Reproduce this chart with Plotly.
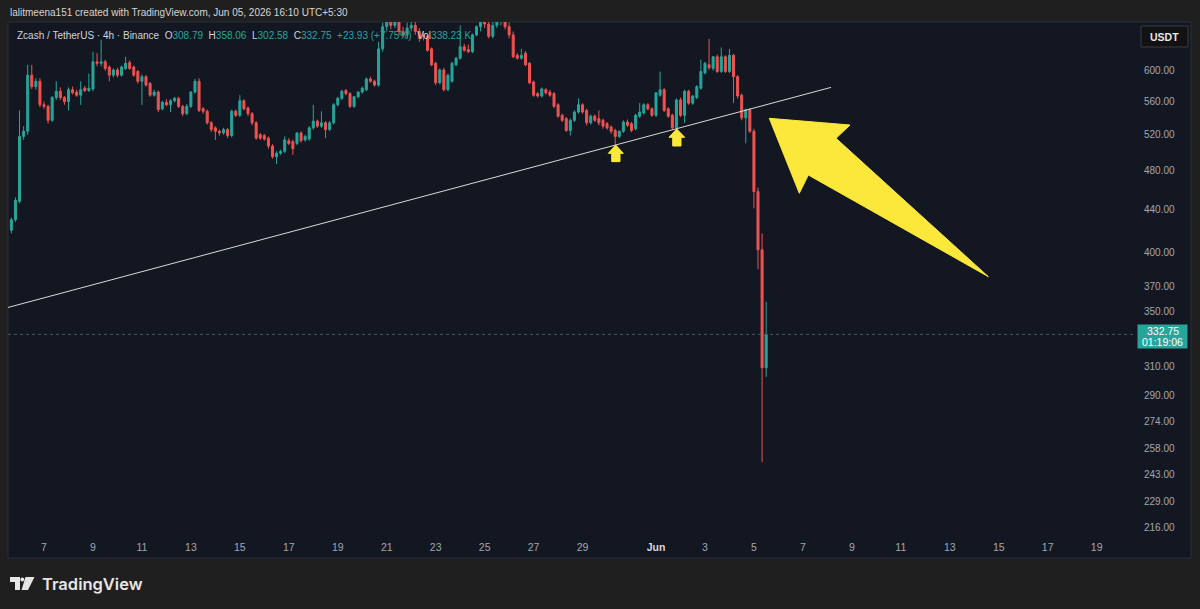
import math
import pandas as pd
import plotly.graph_objects as go

# ---------------- data (4h candles, ZEC/USDT) ----------------
first_candle = "2026-05-05 16:00"

opens = [420, 430, 448, 518, 524, 594, 579, 586, 556, 554,
         537, 565, 573, 565, 560, 575, 572, 568, 577, 574,
         576, 612, 610, 612, 605, 594, 601, 594, 603, 611,
         605, 599, 586, 592, 583, 568, 572, 551, 559, 556,
         561, 564, 554, 545, 554, 572, 586, 551, 548, 534,
         528, 524, 522, 526, 519, 548, 543, 561, 552, 545,
         534, 520, 519, 516, 507, 495, 499, 501, 513, 512,
         510, 522, 514, 515, 528, 536, 530, 534, 526, 534,
         556, 564, 574, 570, 554, 566, 572, 575, 589, 586,
         581, 630, 662, 672, 664, 670, 655, 650, 660, 664,
         655, 650, 648, 630, 610, 584, 601, 575, 586, 608,
         617, 633, 629, 626, 650, 662, 672, 666, 648, 664,
         670, 674, 662, 650, 621, 617, 624, 610, 585, 570,
         567, 575, 572, 570, 556, 543, 539, 525, 537, 547,
         556, 549, 534, 542, 539, 537, 533, 529, 525, 518,
         524, 535, 533, 527, 542, 546, 556, 551, 543, 568,
         575, 551, 543, 528, 562, 543, 573, 558, 565, 577,
         597, 608, 603, 619, 599, 619, 599, 621, 592, 568,
         540, 550, 524, 458, 402, 308.79]
highs = [432, 452, 549, 530, 608, 608, 590, 590, 560, 556,
         567, 586, 578, 567, 578, 579, 575, 586, 580, 596,
         626, 624, 643, 615, 607, 603, 604, 607, 619, 614,
         607, 601, 595, 594, 585, 575, 574, 561, 563, 563,
         566, 566, 556, 557, 573, 589, 590, 553, 550, 536,
         530, 526, 528, 528, 550, 550, 568, 563, 554, 547,
         536, 522, 521, 518, 509, 501, 503, 518, 516, 514,
         523, 524, 520, 530, 556, 538, 548, 536, 536, 558,
         566, 575, 576, 572, 567, 573, 579, 591, 592, 588,
         640, 668, 685, 680, 678, 675, 662, 668, 672, 670,
         660, 655, 650, 632, 612, 603, 604, 596, 612, 619,
         664, 637, 636, 652, 664, 685, 682, 675, 670, 680,
         690, 680, 668, 655, 624, 630, 627, 612, 587, 572,
         578, 577, 575, 572, 558, 545, 541, 539, 549, 564,
         558, 551, 544, 544, 549, 539, 535, 531, 527, 525,
         537, 538, 535, 545, 558, 558, 558, 553, 572, 599,
         577, 553, 545, 564, 565, 575, 575, 568, 581, 615,
         612, 644, 620, 622, 632, 621, 630, 623, 594, 570,
         551, 552, 527, 462, 417, 358.06]
lows = [417, 428, 446, 514, 520, 576, 575, 553, 551, 533,
        535, 562, 562, 556, 549, 569, 566, 556, 572, 572,
        573, 606, 606, 600, 586, 591, 591, 592, 601, 601,
        592, 583, 556, 579, 566, 566, 547, 549, 554, 547,
        559, 552, 542, 543, 552, 570, 547, 545, 532, 523,
        514, 519, 520, 516, 517, 541, 541, 549, 542, 531,
        514, 514, 513, 504, 493, 487, 497, 499, 508, 497,
        508, 511, 512, 513, 526, 528, 528, 516, 524, 532,
        554, 562, 568, 552, 552, 564, 570, 573, 584, 579,
        579, 626, 655, 658, 660, 650, 646, 646, 655, 650,
        640, 642, 626, 606, 581, 582, 573, 573, 584, 606,
        615, 626, 624, 624, 648, 655, 660, 645, 645, 660,
        664, 658, 645, 617, 615, 615, 606, 582, 566, 565,
        565, 569, 566, 552, 540, 535, 523, 519, 535, 545,
        545, 531, 532, 535, 531, 527, 526, 521, 508, 516,
        522, 529, 523, 525, 540, 544, 549, 541, 541, 566,
        547, 540, 526, 525, 541, 534, 556, 556, 563, 575,
        595, 601, 600, 597, 597, 597, 597, 558, 564, 537,
        510, 522, 441, 385, 250, 302.58]
closes = [430, 449, 518, 524, 594, 579, 586, 556, 554, 537,
          565, 573, 565, 560, 575, 571, 568, 575, 574, 577,
          612, 610, 612, 603, 594, 601, 594, 605, 610, 603,
          594, 586, 592, 581, 568, 572, 550, 559, 556, 561,
          564, 554, 545, 554, 572, 586, 549, 548, 534, 526,
          524, 522, 526, 519, 548, 543, 561, 551, 545, 534,
          516, 516, 515, 507, 495, 499, 501, 514, 510, 504,
          522, 513, 518, 528, 536, 530, 534, 526, 534, 556,
          564, 573, 570, 554, 566, 572, 577, 589, 586, 581,
          630, 662, 672, 664, 670, 655, 650, 660, 664, 655,
          645, 648, 628, 608, 584, 601, 575, 594, 610, 617,
          633, 628, 626, 650, 662, 672, 666, 648, 664, 670,
          674, 662, 650, 619, 617, 621, 608, 584, 568, 567,
          576, 571, 568, 554, 542, 537, 525, 537, 547, 556,
          547, 534, 542, 537, 534, 530, 528, 524, 518, 524,
          535, 531, 525, 543, 547, 556, 551, 543, 571, 575,
          549, 542, 528, 562, 543, 573, 558, 567, 579, 599,
          610, 604, 619, 599, 619, 599, 621, 592, 567, 540,
          550, 524, 458, 402, 308.82, 332.75]

volume_text = "338.23 K"
x_tick_dates = ["2026-05-07", "2026-05-09", "2026-05-11", "2026-05-13", "2026-05-15",
                "2026-05-17", "2026-05-19", "2026-05-21", "2026-05-23", "2026-05-25",
                "2026-05-27", "2026-05-29", "2026-06-01", "2026-06-03", "2026-06-05",
                "2026-06-07", "2026-06-09", "2026-06-11", "2026-06-13", "2026-06-15",
                "2026-06-17", "2026-06-19"]
x_tick_labels = ["7", "9", "11", "13", "15", "17", "19", "21", "23", "25", "27", "29",
                 "Jun", "3", "5", "7", "9", "11", "13", "15", "17", "19"]
y_tick_values = [600, 560, 520, 480, 440, 400, 370, 350, 310, 290, 274, 258, 243, 229, 216]

x_range = ["2026-05-05 12:42", "2026-06-20 13:36"]
y_range = [211.07, 669.0]

# drawings anchored on (time, price)
trend_x = ["2026-05-05 12:42", "2026-06-08 03:35"]
trend_y = [353.4, 578.0]
big_arrow_x = ["2026-06-05 15:04", "2026-06-08 22:12", "2026-06-08 08:28", "2026-06-14 13:47",
               "2026-06-07 05:20", "2026-06-06 20:30", "2026-06-05 15:04"]
big_arrow_y = [539.4, 531.4, 515.8, 378.6, 475.2, 456.2, 539.4]
up_arrow1_x = ["2026-05-30 08:30", "2026-05-30 15:56", "2026-05-30 12:42", "2026-05-30 12:42",
               "2026-05-30 04:34", "2026-05-30 04:34", "2026-05-30 01:15", "2026-05-30 08:30"]
up_arrow1_y = [508.2, 498.8, 498.8, 489.6, 489.6, 498.8, 498.8, 508.2]
up_arrow2_x = ["2026-06-01 20:17", "2026-06-02 04:08", "2026-06-02 00:30", "2026-06-02 00:30",
               "2026-06-01 16:22", "2026-06-01 16:22", "2026-06-01 12:45", "2026-06-01 20:17"]
up_arrow2_y = [526.7, 517.0, 517.0, 507.0, 507.0, 517.0, 517.0, 526.7]

# ---------------- styling ----------------
UP = "#26a69a"
DOWN = "#ef5350"
PANEL = "#131722"
OUTER = "#1f1f1f"
TXT = "#d1d4dc"
AX = "#a3a6af"
YEL = "#fbe83b"
FONT = "Liberation Sans Narrow, Arial Narrow, Liberation Sans, sans-serif"

times = pd.date_range(first_candle, periods=len(opens), freq="4h")

fig = go.Figure()
fig.add_trace(go.Candlestick(
    x=times, open=opens, high=highs, low=lows, close=closes,
    increasing=dict(line=dict(color=UP, width=1), fillcolor=UP),
    decreasing=dict(line=dict(color=DOWN, width=1), fillcolor=DOWN),
    whiskerwidth=0, hoverinfo="skip", showlegend=False))

# last price dotted line
fig.add_trace(go.Scatter(x=x_range, y=[closes[-1], closes[-1]], mode="lines",
                         line=dict(color="#4d5a5f", width=1, dash="dot"),
                         hoverinfo="skip", showlegend=False))
# trend line
fig.add_trace(go.Scatter(x=trend_x, y=trend_y, mode="lines",
                         line=dict(color="#d9d9d9", width=1),
                         hoverinfo="skip", showlegend=False))
# arrows
for ax_, ay_ in [(big_arrow_x, big_arrow_y), (up_arrow1_x, up_arrow1_y), (up_arrow2_x, up_arrow2_y)]:
    fig.add_trace(go.Scatter(x=ax_, y=ay_, mode="lines", fill="toself", fillcolor=YEL,
                             line=dict(color=YEL, width=1), hoverinfo="skip", showlegend=False))

W, H = 1200, 609
L, R, T, B = 8, 65, 22, 71
pw, ph = W - L - R, H - T - B


def px(x):
    return (x - L) / pw


def py(y):
    return (H - B - y) / ph


shapes = [
    dict(type="rect", xref="paper", yref="paper", x0=px(8), x1=px(1191), y0=py(558), y1=py(22),
         fillcolor=PANEL, line=dict(color="#2a2e39", width=1), layer="below"),
    dict(type="rect", xref="paper", yref="paper", x0=px(1141), x1=px(1188), y0=py(47), y1=py(26),
         fillcolor="#121212", line=dict(color="#3a3d45", width=1)),
    # TradingView logo
    dict(type="rect", xref="paper", yref="paper", x0=px(10), x1=px(20), y0=py(582), y1=py(577),
         fillcolor="#e6e6e6", line=dict(width=0)),
    dict(type="rect", xref="paper", yref="paper", x0=px(15), x1=px(20), y0=py(590), y1=py(577),
         fillcolor="#e6e6e6", line=dict(width=0)),
    dict(type="circle", xref="paper", yref="paper", x0=px(20.4), x1=px(24.2), y0=py(581.4), y1=py(577.6),
         fillcolor="#e6e6e6", line=dict(width=0)),
    dict(type="path", xref="paper", yref="paper",
         path=f"M {px(25.5)} {py(577)} L {px(34.5)} {py(577)} L {px(28)} {py(590)} L {px(21.5)} {py(590)} Z",
         fillcolor="#e6e6e6", line=dict(width=0)),
]

g = TXT
t = UP if closes[-1] >= opens[-1] else DOWN
chg = closes[-1] - closes[-2]
pct = chg / closes[-2] * 100
sp = "\u00a0"
legend_txt = (f"<span style='color:{g}'>Zcash / TetherUS · 4h · Binance</span>{sp}{sp}"
              f"<span style='color:{g}'>O</span><span style='color:{t}'>{opens[-1]:.2f}</span>{sp}{sp}"
              f"<span style='color:{g}'>H</span><span style='color:{t}'>{highs[-1]:.2f}</span>{sp}{sp}"
              f"<span style='color:{g}'>L</span><span style='color:{t}'>{lows[-1]:.2f}</span>{sp}{sp}"
              f"<span style='color:{g}'>C</span><span style='color:{t}'>{closes[-1]:.2f}</span>{sp}{sp}"
              f"<span style='color:{t}'>{chg:+.2f} ({pct:+.2f}%)</span>{sp}{sp}"
              f"<span style='color:{g}'>Vol</span><span style='color:{t}'>{volume_text}</span>")

ly = math.log10(closes[-1])
annotations = [
    dict(xref="paper", yref="paper", x=px(8), y=py(13), xanchor="left", yanchor="middle",
         text="lalitmeena151 created with TradingView.com, Jun 05, 2026 16:10 UTC+5:30",
         showarrow=False, font=dict(family=FONT, size=10, color="#d6d6d6")),
    dict(xref="paper", yref="paper", x=px(15), y=py(35.5), xanchor="left", yanchor="middle",
         text=legend_txt, showarrow=False, font=dict(family=FONT, size=10, color=g)),
    dict(xref="paper", yref="paper", x=px(1164.5), y=py(36.5), xanchor="center", yanchor="middle",
         text="USDT", showarrow=False, font=dict(family=FONT, size=10.5, color="#e8e8e8", weight="bold")),
    dict(xref="paper", yref="y", x=px(1162.5), y=ly, yshift=-2, xanchor="center", yanchor="middle",
         text=" ", width=49, height=23, bgcolor=UP, showarrow=False, borderpad=0,
         font=dict(size=8)),
    dict(xref="paper", yref="y", x=px(1162.5), y=ly, yshift=3, xanchor="center", yanchor="middle",
         text=f"{closes[-1]:.2f}", showarrow=False, font=dict(family=FONT, size=10.5, color="white")),
    dict(xref="paper", yref="y", x=px(1162.5), y=ly, yshift=-8, xanchor="center", yanchor="middle",
         text="01:19:06", showarrow=False, font=dict(family=FONT, size=10.5, color="white")),
    dict(xref="paper", yref="paper", x=px(40), y=py(584), xanchor="left", yanchor="middle",
         text="TradingView", showarrow=False,
         font=dict(family="Inter, Roboto, sans-serif", size=16.5, color="#e6e6e6", weight=600)),
]

x_text = [f"<span style='color:#d8dae0'><b>{s}</b></span>" if s == "Jun" else s for s in x_tick_labels]

fig.update_layout(
    width=W, height=H,
    margin=dict(l=L, r=R, t=T, b=B, autoexpand=False),
    paper_bgcolor=OUTER, plot_bgcolor=PANEL,
    showlegend=False, hovermode=False,
    shapes=shapes, annotations=annotations,
    xaxis=dict(type="date", range=x_range, rangeslider=dict(visible=False),
               showgrid=False, zeroline=False, showline=False, ticks="",
               tickvals=x_tick_dates, ticktext=x_text, ticklabelstandoff=1,
               tickfont=dict(family=FONT, size=10.5, color=AX)),
    yaxis=dict(type="log", range=[math.log10(y_range[0]), math.log10(y_range[1])], side="right",
               showgrid=False, zeroline=False, showline=False, ticks="",
               tickvals=y_tick_values, ticktext=[f"{v:.2f}" for v in y_tick_values],
               ticklabelstandoff=8, tickfont=dict(family=FONT, size=10, color=AX)),
)

fig.write_html("out.html", config={"displayModeBar": False},
               post_script="document.body.style.margin='0';document.body.style.background='#1f1f1f';")
